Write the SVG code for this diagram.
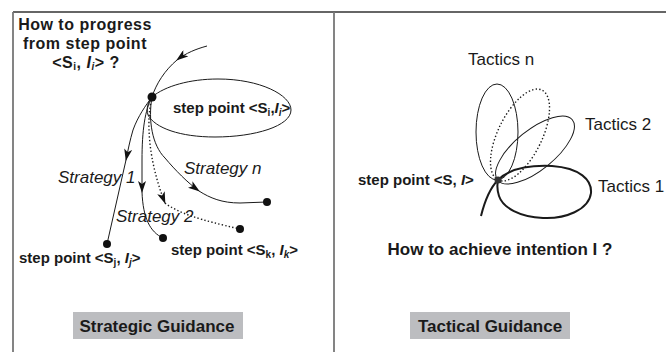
<svg xmlns="http://www.w3.org/2000/svg" width="666" height="352" viewBox="0 0 666 352">
<defs>
<style>
text{font-family:"Liberation Sans",Arial,sans-serif;fill:#1a1a1a}
.b{font-weight:bold;font-size:15px}
.h{font-weight:bold;font-size:17px}
.hd{font-weight:bold;font-size:16px;letter-spacing:0.5px}
.it{font-style:italic;font-size:17px}
.t{font-size:17px}
.ln{fill:none;stroke:#1a1a1a;stroke-width:1}
.dt{fill:none;stroke:#1a1a1a;stroke-width:1.4;stroke-dasharray:1.4 2.2}
.tk{fill:none;stroke:#1a1a1a;stroke-width:2}
.dot{fill:#111}
.box{fill:#bcbdc0}
</style>
<marker id="ah" viewBox="0 0 12 8" refX="11" refY="4" markerWidth="12" markerHeight="8" markerUnits="userSpaceOnUse" orient="auto">
<path d="M0,0 L12,4 L0,8 L3,4 Z" fill="#111"/>
</marker>
</defs>
<g id="frame">
<line x1="13" y1="12" x2="666" y2="12" stroke="#333" stroke-width="1.5"/>
<line x1="13" y1="12" x2="13" y2="352" stroke="#777" stroke-width="1.8"/>
<line x1="334" y1="12" x2="334" y2="352" stroke="#777" stroke-width="1.8"/>
</g>
<g id="connectors">
<path class="ln" d="M207,46 C196,49 186,53 177,60" marker-end="url(#ah)"/>
<path class="ln" d="M177,60 C165,70 156,84 152,97 C146,105 138,116 133,130 C130,140 128,150 126,160" marker-end="url(#ah)"/>
<path class="ln" d="M126,160 L107,244"/>
<path class="ln" d="M152,97 C145,110 142,130 142,160 L142,192" marker-end="url(#ah)"/>
<path class="ln" d="M142,192 C143,218 150,232 163,238"/>
<path class="dt" d="M152,97 C146,120 148,160 165,203" marker-end="url(#ah)"/>
<path class="dt" d="M165,203 C178,213 200,220 240,229"/>
<path class="ln" d="M152,97 C148,120 152,145 165,158 C175,170 188,183 199,191" marker-end="url(#ah)"/>
<path class="ln" d="M199,191 C210,198 222,203 240,203 L267,202"/>
<path class="ln" d="M152,97 C165,86 190,79 218,79 C260,79 291,95 291,110 C291,126 255,137 215,137 C180,137 155,128 148,115 C146,108 148,102 152,97"/>
</g>
<g id="strategic">
<circle class="dot" cx="152" cy="97" r="4.5"/>
<circle class="dot" cx="107" cy="244" r="4"/>
<circle class="dot" cx="163" cy="238" r="4"/>
<circle class="dot" cx="240" cy="229" r="4"/>
<circle class="dot" cx="267" cy="202" r="4"/>
<text class="hd" x="85" y="30" text-anchor="middle">How to progress</text>
<text class="hd" x="85" y="49" text-anchor="middle">from step point</text>
<text class="hd" x="86" y="68" text-anchor="middle">&lt;S<tspan font-size="10" dy="2">i</tspan><tspan dy="-2">, </tspan><tspan font-style="italic">I</tspan><tspan font-size="10" font-style="italic" dy="2">i</tspan><tspan dy="-2">&gt; ?</tspan></text>
<text class="b" x="173" y="113">step point &lt;S<tspan font-size="10" dy="3">i</tspan><tspan dy="-3">,</tspan><tspan font-style="italic">I</tspan><tspan font-size="10" font-style="italic" dy="3">i</tspan><tspan dy="-3">&gt;</tspan></text>
<text class="it" x="58" y="183">Strategy 1</text>
<text class="it" x="184" y="174">Strategy n</text>
<text class="it" x="116" y="222">Strategy 2</text>
<text class="b" x="19" y="263">step point &lt;S<tspan font-size="10" dy="3">j</tspan><tspan dy="-3">, </tspan><tspan font-style="italic">I</tspan><tspan font-size="10" font-style="italic" dy="3">j</tspan><tspan dy="-3">&gt;</tspan></text>
<text class="b" x="171" y="255">step point &lt;S<tspan font-size="10" dy="3">k</tspan><tspan dy="-3">, </tspan><tspan font-style="italic">I</tspan><tspan font-size="10" font-style="italic" dy="3">k</tspan><tspan dy="-3">&gt;</tspan></text>
</g>
<g id="strategic-guidance">
<rect class="box" x="73" y="312" width="170" height="27"/>
<text class="h" x="157" y="332" text-anchor="middle">Strategic Guidance</text>
</g>
<g id="tactical">
<ellipse class="ln" cx="497" cy="132" rx="21" ry="48"/>
<ellipse class="dt" cx="520" cy="135" rx="22" ry="50" transform="rotate(26 520 135)"/>
<ellipse class="ln" cx="535" cy="150" rx="20" ry="48" transform="rotate(51 535 150)"/>
<path class="tk" d="M481,216 C485,200 490,188 498,180 C510,168 530,165 552,166 C580,168 592,180 591,193 C589,210 565,219 543,218 C520,217 503,208 499,196 C497,190 497,185 498,180"/>
<circle cx="498" cy="180" r="3.5" fill="#333"/>
<text class="t" x="468" y="65">Tactics n</text>
<text class="t" x="585" y="130">Tactics 2</text>
<text class="t" x="598" y="192">Tactics 1</text>
<text class="b" x="358" y="185">step point &lt;S, <tspan font-style="italic">I</tspan>&gt;</text>
<text class="h" x="500" y="255" text-anchor="middle">How to achieve intention I ?</text>
</g>
<g id="tactical-guidance">
<rect class="box" x="410" y="312" width="160" height="27"/>
<text class="h" x="490" y="332" text-anchor="middle">Tactical Guidance</text>
</g>
</svg>
